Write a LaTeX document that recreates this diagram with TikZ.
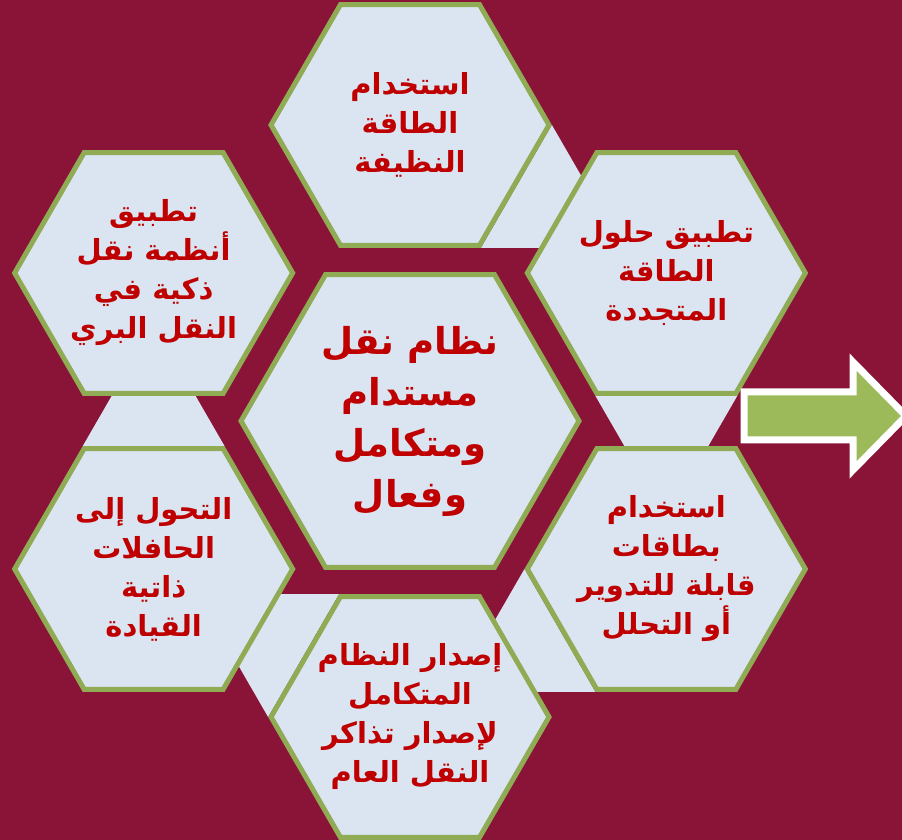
\documentclass[tikz,border=0pt]{standalone}
\usepackage{fontspec}
\usepackage{tikz}
\usetikzlibrary{shapes,arrows,calc,backgrounds,positioning}
\newfontfamily\arabicfont[Script=Arabic]{DejaVu Sans}
\TeXXeTstate=1
\definecolor{wine}{rgb}{.54,.08,.22}
\definecolor{pale}{rgb}{.86,.90,.95}
\definecolor{leaf}{rgb}{.56,.67,.33}
\definecolor{deepred}{rgb}{.75,0,0}
\definecolor{arrowgreen}{rgb}{.61,.73,.35}
\newcommand\rl[1]{\makebox[0pt]{\beginR #1\endR}}

\begin{document}
\begin{tikzpicture}[x=1pt,y=1pt,% everything is measured in points
      every node/.style={
        align=center,     % so that "\\" breaks the lines
        text=deepred,
        inner sep=0pt
      },
      hexcell/.style={
        regular polygon,regular polygon sides=6,
        draw=leaf,line width=5pt,fill=pale,
        minimum size=278pt,
        font=\arabicfont\bfseries\fontsize{29}{39}\selectfont
      },
      hexcore/.style={hexcell,minimum size=338pt,
        font=\arabicfont\bfseries\fontsize{37}{51}\selectfont},
      link/.style={fill=pale},
      arrowbox/.style={draw=white,line width=7pt,fill=arrowgreen,line join=miter}
    ]
    \useasboundingbox (-410,-419) rectangle (492,421);
    \node[hexcore](Core) at (0,0){\rl{نظام نقل}\\ \rl{مستدام}\\ \rl{ومتكامل}\\ \rl{وفعال}};
    \node[hexcell](Clean) at (90:296){\rl{استخدام}\\ \rl{الطاقة}\\ \rl{النظيفة}};
    \node[hexcell](Renew) at (30:296){\rl{تطبيق حلول}\\ \rl{الطاقة}\\ \rl{المتجددة}};
    \node[hexcell](Cards) at (-30:296){\rl{استخدام}\\ \rl{بطاقات}\\ \rl{قابلة للتدوير}\\ \rl{أو التحلل}};
    \node[hexcell](Ticket) at (-90:296){\rl{إصدار النظام}\\ \rl{المتكامل}\\ \rl{لإصدار تذاكر}\\ \rl{النقل العام}};
    \node[hexcell](Auto) at (210:296){\rl{التحول إلى}\\ \rl{الحافلات}\\ \rl{ذاتية}\\ \rl{القيادة}};
    \node[hexcell](Smart) at (150:296){\rl{تطبيق}\\ \rl{أنظمة نقل}\\ \rl{ذكية في}\\ \rl{النقل البري}};
    % the arrow on the right
    \coordinate (Out) at (334,5);
    \draw[arrowbox] (Out) ++(0,24) -- ++(109,0) -- ++(0,30) -- ++(53,-54)
      -- ++(-53,-54) -- ++(0,30) -- ++(-109,0) -- cycle;
    \begin{pgfonlayer}{background}
      \fill[wine] (-410,-419) rectangle (492,421);
      \fill[link] (Clean.0) -- (Clean.-60) -- ($(Clean.0)+(Clean.-60)-(Clean.center)$) -- cycle;
      \fill[link] (Renew.-60) -- (Renew.-120) -- ($(Renew.-60)+(Renew.-120)-(Renew.center)$) -- cycle;
      \fill[link] (Cards.-120) -- (Cards.180) -- ($(Cards.-120)+(Cards.180)-(Cards.center)$) -- cycle;
      \fill[link] (Ticket.180) -- (Ticket.120) -- ($(Ticket.180)+(Ticket.120)-(Ticket.center)$) -- cycle;
      \fill[link] (Auto.120) -- (Auto.60) -- ($(Auto.120)+(Auto.60)-(Auto.center)$) -- cycle;
    \end{pgfonlayer}
  \end{tikzpicture}
\end{document}
